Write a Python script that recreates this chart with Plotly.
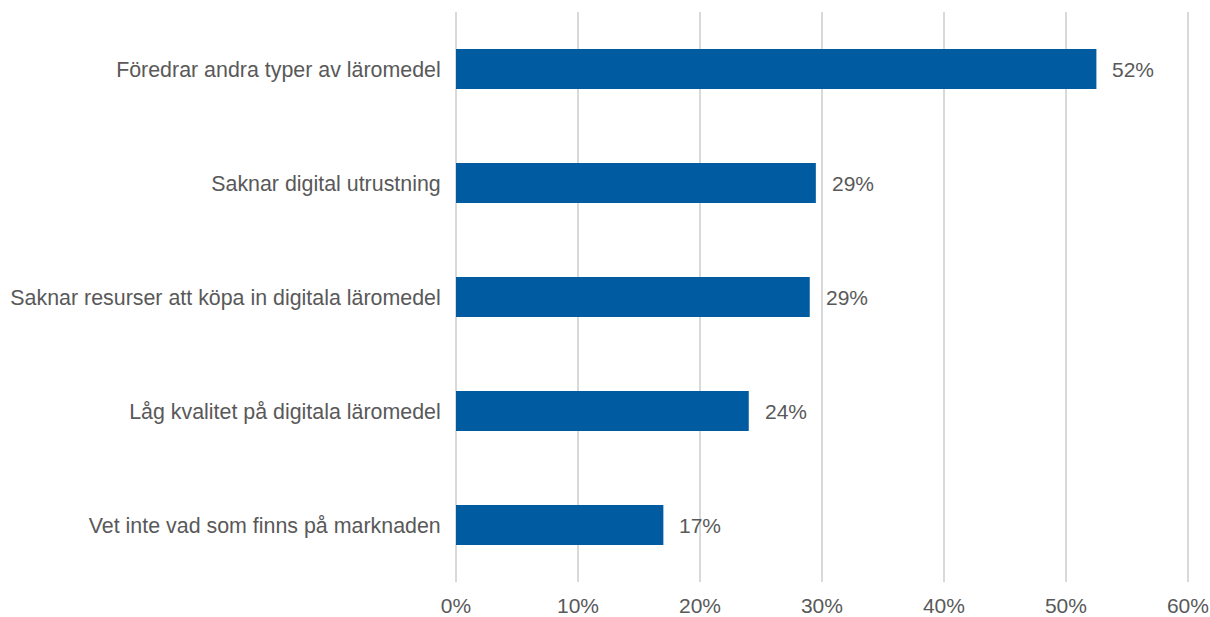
import plotly.graph_objects as go

categories = [
    "Föredrar andra typer av läromedel",
    "Saknar digital utrustning",
    "Saknar resurser att köpa in digitala läromedel",
    "Låg kvalitet på digitala läromedel",
    "Vet inte vad som finns på marknaden",
]
values = [52.5, 29.5, 29.0, 24.0, 17.0]
labels = ["52%", "29%", "29%", "24%", "17%"]
tick_vals = [0, 10, 20, 30, 40, 50, 60]
tick_text = ["0%", "10%", "20%", "30%", "40%", "50%", "60%"]

font = "Liberation Sans, Arial, sans-serif"
grey = "#595959"
fs = 21

fig = go.Figure(go.Bar(
    x=values, y=categories, orientation="h",
    marker=dict(color="#005BA1", line=dict(width=0)),
    width=0.35,
    hoverinfo="skip",
))

for v, c, t in zip(values, categories, labels):
    fig.add_annotation(x=v, y=c, text=t, showarrow=False, xanchor="left",
                       xshift=14, font=dict(family=font, size=fs, color=grey))

fig.update_layout(
    width=1210, height=617,
    margin=dict(l=456, r=16, t=12, b=35),
    plot_bgcolor="white", paper_bgcolor="white",
    showlegend=False,
    font=dict(family=font, size=fs, color=grey),
    xaxis=dict(range=[0, 60.5], tickvals=tick_vals, ticktext=tick_text,
               showgrid=True, gridcolor="#D9D9D9", gridwidth=1.5,
               zeroline=True, zerolinecolor="#D9D9D9", zerolinewidth=1.5,
               showline=False, automargin=False,
               ticks="outside", ticklen=5, tickcolor="white",
               tickfont=dict(family=font, size=fs, color=grey)),
    yaxis=dict(showgrid=False, zeroline=False, showline=False,
               automargin=False,
               ticks="outside", ticklen=10, tickcolor="white",
               autorange=False, range=[4.5, -0.5],
               tickfont=dict(family=font, size=21.4, color=grey)),
)

fig.write_html("out.html", config={"displayModeBar": False},
               post_script="document.body.style.margin='0';")
